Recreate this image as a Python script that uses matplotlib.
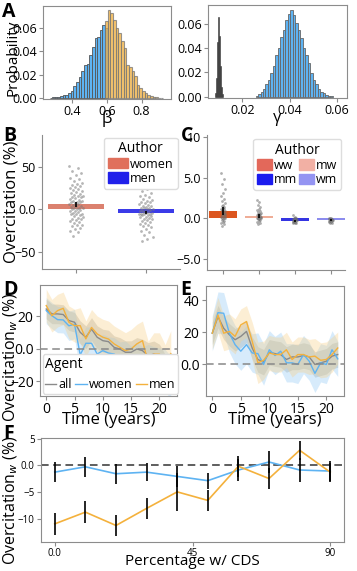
import matplotlib
matplotlib.use("Agg")
import matplotlib.pyplot as plt
import numpy as np
from matplotlib.patches import Patch
from matplotlib.lines import Line2D

plt.rcParams["font.family"] = ["Open Sans", "DejaVu Sans"]
plt.rcParams["mathtext.fontset"] = "dejavusans"

# ---- panel A: posterior histograms ----
BETA_START, BETA_WIDTH = 0.279, 0.0152
beta_women = [0.0003, 0.0006, 0.0008, 0.001, 0.0017, 0.0023, 0.003, 0.0043, 0.0063, 0.010,
              0.0134, 0.0177, 0.0229, 0.028, 0.029, 0.037, 0.044, 0.0514, 0.052, 0.0586,
              0.063, 0.060]
BETA_MEN_START = 0.598
beta_men = [0.066, 0.0757, 0.073, 0.067, 0.060, 0.056, 0.0486, 0.043, 0.0286, 0.027,
            0.023, 0.0186, 0.0114, 0.0086, 0.0063, 0.0043, 0.003, 0.0017, 0.0011, 0.0006,
            0.0004, 0.0002]

GAMMA_START, GAMMA_WIDTH = 0.0261, 0.00105
gamma_main = [0.0005, 0.0019, 0.004, 0.006, 0.010, 0.014, 0.0196, 0.025, 0.0346, 0.040,
              0.0488, 0.055, 0.063, 0.068, 0.0714, 0.067, 0.0605, 0.055, 0.048, 0.040,
              0.0346, 0.028, 0.0196, 0.014, 0.010, 0.006, 0.004, 0.0025, 0.0014, 0.0008,
              0.0003]
SPIKE_START, SPIKE_WIDTH = 0.0087, 0.0004
gamma_spike = [0.003, 0.015, 0.045, 0.066, 0.05, 0.025, 0.008, 0.002]

# ---- panel B: overcitation by author gender ----
b_groups = ["women", "men"]
b_means = [6.0, -4.0]
b_errs = [3.0, 2.0]
b_women_pts = [51, 48, 45, 43, 40, 37, 35, 33, 31, 30, 28, 27, 26, 25, 24, 22, 21, 20, 19,
               18, 17, 16, 15, 14, 14, 13, 12, 11, 10, 10, 9, 8, 8, 7, 6, 6, 5, 4, 4, 3, 2,
               2, 1, 0, 0, -1, -2, -2, -3, -4, -5, -5, -6, -7, -8, -9, -10, -11, -12, -13,
               -14, -15, -16, -18, -19, -20, -22, -23, -25, -27, -31]
b_men_pts = [27, 24, 21, 19, 17, 15, 14, 12, 11, 10, 9, 8, 7, 6, 5, 4, 4, 3, 2, 1, 1, 0, 0,
             -1, -1, -2, -2, -3, -3, -4, -4, -5, -5, -6, -6, -7, -7, -8, -9, -9, -10, -11,
             -12, -13, -14, -15, -16, -17, -18, -20, -21, -23, -25, -27, -30, -33, -35, -37]

# ---- panel C: overcitation by author pair ----
c_groups = ["ww", "mw", "mm", "wm"]
c_means = [0.9, 0.3, -0.3, -0.2]
c_errs = [0.5, 0.3, 0.15, 0.1]
c_pts = [
    [5.5, 4.8, 4.2, 3.6, 3.1, 2.7, 2.4, 2.1, 1.9, 1.7, 1.5, 1.4, 1.3, 1.2, 1.1, 1.0, 0.9,
     0.9, 0.8, 0.7, 0.6, 0.6, 0.5, 0.4, 0.3, 0.3, 0.2, 0.1, 0.0, 0.0, -0.1, -0.2, -0.3,
     -0.4, -0.5, -0.7, -0.9],
    [2.3, 2.0, 1.7, 1.4, 1.2, 1.0, 0.9, 0.8, 0.7, 0.6, 0.5, 0.5, 0.4, 0.4, 0.3, 0.3, 0.2,
     0.2, 0.1, 0.1, 0.0, 0.0, -0.1, -0.1, -0.2, -0.3, -0.4, -0.5, -0.7],
    [0.4, 0.2, 0.1, 0.0, 0.0, -0.1, -0.1, -0.2, -0.2, -0.2, -0.3, -0.3, -0.3, -0.4, -0.4,
     -0.4, -0.5, -0.5, -0.6],
    [0.1, 0.0, 0.0, -0.1, -0.1, -0.1, -0.2, -0.2, -0.2, -0.2, -0.3, -0.3, -0.3, -0.4, -0.4,
     -0.5, -0.6],
]

# ---- panels D/E: overcitation over time ----
years = list(range(23))
d_all = [24.3, 21.3, 21.3, 20.9, 17.2, 16.2, 10.0, 7.0, 12.0, 7.0, 4.9, 4.3, 0.8, -0.2,
         -2.2, -2.2, -0.2, -1.2, -4.3, -3.3, -5.3, -12.5, -11.5]
d_women = [23.3, 20.2, 17.8, 17.6, 14.0, 15.0, -3.9, 3.3, 3.3, -3.3, -1.2, -2.7, -3.3,
           -5.9, -5.3, -9.4, -7.4, -9.8, -9.4, -10.8, -11.5, -13.5, -17.6]
d_men = [26.4, 20.2, 23.3, 24.7, 16.2, 14.1, 14.1, 6.0, 13.0, 9.0, 7.0, 5.9, 2.9, 0.8,
         -1.2, -0.2, 2.9, 4.9, -8.4, -3.3, -3.3, -11.5, -3.0]
d_all_ci = [6, 6, 6, 6, 6, 6, 7, 7, 7, 7, 7, 7, 7, 7, 7, 7, 7, 7, 8, 8, 8, 9, 9]
d_women_ci = [8, 8, 8, 8, 9, 9, 10, 10, 10, 10, 10, 10, 10, 10, 10, 11, 11, 11, 12, 12, 12, 13, 13]
d_men_ci = [10, 10, 10, 10, 10, 10, 11, 11, 11, 11, 11, 11, 11, 11, 11, 12, 12, 12, 13, 13, 13, 14, 14]

e_all = [19.4, 29.8, 22.5, 18.4, 15.3, 17.4, 20.5, 10.1, 2.9, 1.2, 7.4, 6.6, 6.0, 2.9, 4.5,
         4.5, 5.4, 4.5, -0.2, 0.8, 1.8, 5.0, 6.0]
e_women = [19.4, 32.3, 31.9, 19.4, 12.2, 8.1, 12.2, 7.0, 6.6, -0.2, 9.0, 5.4, 8.1, 0.8, 0.8,
           -0.2, 6.0, 1.8, -5.8, 0.8, -0.2, 9.0, 3.3]
e_men = [19.4, 30.8, 19.4, 20.5, 17.4, 24.6, 26.7, 14.3, 0.8, 2.4, 7.0, 6.0, 6.0, 9.0, 2.9,
         6.0, 6.0, 4.5, 5.0, 2.4, 2.9, 6.0, 10.1]
e_all_ci = [7, 7, 7, 7, 7, 7, 7, 7, 8, 8, 8, 8, 8, 8, 8, 8, 8, 8, 8, 8, 8, 8, 8]
e_women_ci = [11, 13, 13, 12, 12, 12, 12, 12, 13, 13, 12, 12, 12, 12, 12, 12, 12, 12, 12, 12, 12, 12, 11]
e_men_ci = [10, 11, 11, 11, 11, 10, 10, 12, 13, 12, 11, 11, 11, 11, 11, 11, 11, 11, 11, 11, 11, 11, 10]

# ---- panel F: overcitation vs share of CDS ----
cds_pct = [0, 10, 20, 30, 40, 50, 60, 70, 80, 90]
f_women = [-1.3, -0.3, -1.6, -1.3, -2.1, -2.9, -0.9, 0.6, -0.9, -1.1]
f_men = [-11.0, -8.8, -11.3, -8.1, -5.0, -6.6, -0.2, -2.5, 2.8, -1.3]
f_women_err = [1.9, 1.9, 1.9, 1.7, 2.0, 1.5, 2.0, 2.0, 2.2, 1.9]
f_men_err = [2.0, 2.1, 2.0, 2.0, 3.5, 2.0, 2.0, 2.0, 1.8, 1.8]

BLUE = "#5eb3f2"
ORANGE = "#f4b13c"
GRAY = "#8a8a8a"
SPINE = "#8c8c8c"
W, H = 357, 571


def px_axes(fig, left, top, right, bottom):
    ax = fig.add_axes([left / W, 1 - bottom / H, (right - left) / W, (bottom - top) / H])
    ax._px = (left, top, right, bottom)
    return ax


def place_ylabel(ax, text, right_x, cy, size=12):
    # label grows leftwards from right_x, centred on cy (figure pixels)
    left, top, right, bottom = ax._px
    ax.set_ylabel(text, fontsize=size)
    ax.yaxis.set_label_coords((right_x - left) / (right - left), (bottom - cy) / (bottom - top))


def place_xlabel(ax, text, top_y, size=12):
    left, top, right, bottom = ax._px
    ax.set_xlabel(text, fontsize=size)
    ax.xaxis.set_label_coords(0.5, (bottom - top_y) / (bottom - top))


def style(ax, size=9, box=True):
    for side, sp in ax.spines.items():
        sp.set_color(SPINE)
        if not box and side in ("top", "right"):
            sp.set_visible(False)
    ax.tick_params(labelsize=size, length=3, width=0.8, color=SPINE, pad=1.5)


def jitter(n, spread):
    return ((np.arange(n) * 0.618034) % 1 - 0.5) * spread


fig = plt.figure(figsize=(W / 100, H / 100), dpi=100)

# A left
ax = px_axes(fig, 43, 6, 171, 99)
bc = BETA_START + BETA_WIDTH * np.arange(len(beta_women))
ax.bar(bc, beta_women, width=BETA_WIDTH, color=BLUE, edgecolor="#555555", linewidth=0.6)
mc = BETA_MEN_START + BETA_WIDTH * np.arange(len(beta_men))
ax.bar(mc, beta_men, width=BETA_WIDTH, color=ORANGE, alpha=0.75, edgecolor="#777777", linewidth=0.8)
ax.set_xlim(0.234, 0.969)
ax.set_ylim(-0.0008, 0.079)
ax.set_xticks([0.4, 0.6, 0.8])
ax.set_yticks([0, 0.02, 0.04, 0.06])
ax.set_yticklabels(["0.00", "0.02", "0.04", "0.06"])
place_xlabel(ax, "β", 110)
place_ylabel(ax, "Probability", 20, 58, size=11)
style(ax)

# A right
ax = px_axes(fig, 208, 5, 347, 97.5)
gc = GAMMA_START + GAMMA_WIDTH * np.arange(len(gamma_main))
ax.bar(gc, gamma_main, width=GAMMA_WIDTH, color=BLUE, edgecolor="#666666", linewidth=0.6)
sc = SPIKE_START + SPIKE_WIDTH * np.arange(len(gamma_spike))
ax.bar(sc, gamma_spike, width=SPIKE_WIDTH, color="#222222", edgecolor="#444444", linewidth=0.4)
ax.set_xlim(0.0055, 0.0642)
ax.set_ylim(-0.0008, 0.0755)
ax.set_xticks([0.02, 0.04, 0.06])
ax.set_yticks([0, 0.02, 0.04, 0.06])
ax.set_yticklabels(["0.00", "0.02", "0.04", "0.06"])
place_xlabel(ax, "γ", 110)
style(ax)

# B
ax = px_axes(fig, 42, 135, 180, 269)
b_colors = ["#d8735f", "#2626e6"]
ax.bar(range(2), b_means, width=0.8, color=b_colors, alpha=0.9, zorder=1)
for i, pts in enumerate([b_women_pts, b_men_pts]):
    ax.scatter(i + jitter(len(pts), 0.2), pts, s=4, color="#7a7a7a", alpha=0.55,
               linewidths=0, zorder=2)
ax.errorbar(range(2), b_means, yerr=b_errs, fmt="none", ecolor="black", elinewidth=1.2, zorder=3)
ax.set_xlim(-0.49, 1.49)
ax.set_ylim(-70, 87)
ax.set_xticks([0, 1])
ax.set_xticklabels([])
ax.set_yticks([-50, 0, 50])
ax.set_yticklabels(["\u221250", "0.0", "50"])
place_ylabel(ax, "Overcitation (%)", 20, 202)
style(ax, box=False)
handles = [Patch(color=c, label=g) for c, g in zip(["#e0705c", "#2020ea"], b_groups)]
ax.legend(handles=handles, title="Author", loc="upper right", fontsize=9, title_fontsize=10,
          handlelength=1.6, handleheight=0.9, handletextpad=0.2, borderpad=0.3,
          labelspacing=0.1, borderaxespad=0.2, framealpha=1, edgecolor="#dddddd")

# C
ax = px_axes(fig, 207, 135, 345, 270)
c_colors = ["#dc561f", "#efad97", "#3535e2", "#8c8cee"]
ax.bar(range(4), c_means, width=0.78, color=c_colors, zorder=1)
for i, pts in enumerate(c_pts):
    ax.scatter(i + jitter(len(pts), 0.12), pts, s=4, color="#6e6e6e", alpha=0.55,
               linewidths=0, zorder=2)
ax.errorbar(range(4), c_means, yerr=c_errs, fmt="none", ecolor="black", elinewidth=1.2, zorder=3)
ax.set_xlim(-0.45, 3.4)
ax.set_ylim(-6.3, 10.2)
ax.set_xticks(range(4))
ax.set_xticklabels([])
ax.set_yticks([-5, 0, 5, 10])
ax.set_yticklabels(["\u22125.0", "0.0", "5.0", "10"])
style(ax, box=False)
leg_colors = ["#e3685a", "#f2b0a4", "#1b1bee", "#9494f2"]
handles = [Patch(color=c, label=g) for c, g in zip(leg_colors, c_groups)]
order = [0, 2, 1, 3]
ax.legend(handles=[handles[k] for k in order], title="Author", ncol=2, loc="upper right",
          fontsize=9, title_fontsize=10, handlelength=1.2, handleheight=0.9,
          handletextpad=0.15, columnspacing=0.2, borderpad=0.3, labelspacing=0.1,
          borderaxespad=0.3, framealpha=1, edgecolor="#dddddd")


def time_panel(ax, series):
    for vals, ci, color, band in series:
        v = np.array(vals, dtype=float)
        c = np.array(ci, dtype=float)
        ax.fill_between(years, v - c, v + c, color=band, alpha=0.35, linewidth=0)
    for vals, ci, color, band in series:
        ax.plot(years, vals, color=color, linewidth=1.0)
    ax.axhline(0, color="#888888", linestyle=(0, (5, 3)), linewidth=1.1)
    ax.set_xticks([0, 5, 10, 15, 20])
    place_xlabel(ax, "Time (years)", 412)
    style(ax, size=10)


# D
ax = px_axes(fig, 40, 285, 177, 396)
time_panel(ax, [(d_all, d_all_ci, GRAY, "#9a9a8a"),
                (d_women, d_women_ci, BLUE, "#8ec8f6"),
                (d_men, d_men_ci, ORANGE, "#f8cf86")])
ax.set_ylim(-29, 39)
ax.set_yticks([-20, 0, 20])
ax.set_yticklabels(["\u221220", "0.0", "20"])
place_ylabel(ax, "Overcitation$_w$ (%)", 20, 357, size=11.5)
handles = [Line2D([], [], color=c, lw=1.0, label=l)
           for c, l in zip([GRAY, BLUE, ORANGE], ["all", "women", "men"])]
ax.legend(handles=handles, title="Agent", ncol=3, loc="lower left", fontsize=9,
          title_fontsize=10, handlelength=0.9, handletextpad=0.15, columnspacing=0.3,
          borderpad=0.2, borderaxespad=0.2, framealpha=1, edgecolor="#dddddd")
ax.get_legend()._legend_box.align = "left"

# E
ax = px_axes(fig, 206, 286, 344, 396)
time_panel(ax, [(e_all, e_all_ci, GRAY, "#9a9a8a"),
                (e_women, e_women_ci, BLUE, "#8ec8f6"),
                (e_men, e_men_ci, ORANGE, "#f8cf86")])
ax.set_ylim(-20, 49)
ax.set_yticks([0, 20, 40])
ax.set_yticklabels(["0.0", "20", "40"])

# F
ax = px_axes(fig, 41, 438, 344, 542)
ax.axhline(0, color="#333333", linestyle=(0, (5, 3)), linewidth=1.1)
ax.plot(cds_pct, f_women, color=BLUE, linewidth=1.2)
ax.plot(cds_pct, f_men, color=ORANGE, linewidth=1.2)
ax.errorbar(cds_pct, f_women, yerr=f_women_err, fmt="none", ecolor="black", elinewidth=1.2)
ax.errorbar(cds_pct, f_men, yerr=f_men_err, fmt="none", ecolor="black", elinewidth=1.2)
ax.set_xlim(-4.5, 94.5)
ax.set_ylim(-14.4, 5.1)
ax.set_xticks([0, 45, 90])
ax.set_xticklabels(["0.0", "45", "90"])
ax.set_yticks([-10, -5, 0, 5])
ax.set_yticklabels(["\u221210", "\u22125", "0.0", "5"])
place_xlabel(ax, "Percentage w/ CDS", 554, size=11)
place_ylabel(ax, "Overcitation$_w$ (%)", 20, 500, size=11.5)
style(ax, size=7)

# panel letters
for letter, x, y in [("A", 2, 2), ("B", 3, 126), ("C", 181, 126), ("D", 3, 280),
                     ("E", 180, 280), ("F", 3, 424)]:
    fig.text(x / W, 1 - y / H, letter, fontsize=14, fontweight="bold", va="top", ha="left")

fig.savefig("out.png", dpi=100)
